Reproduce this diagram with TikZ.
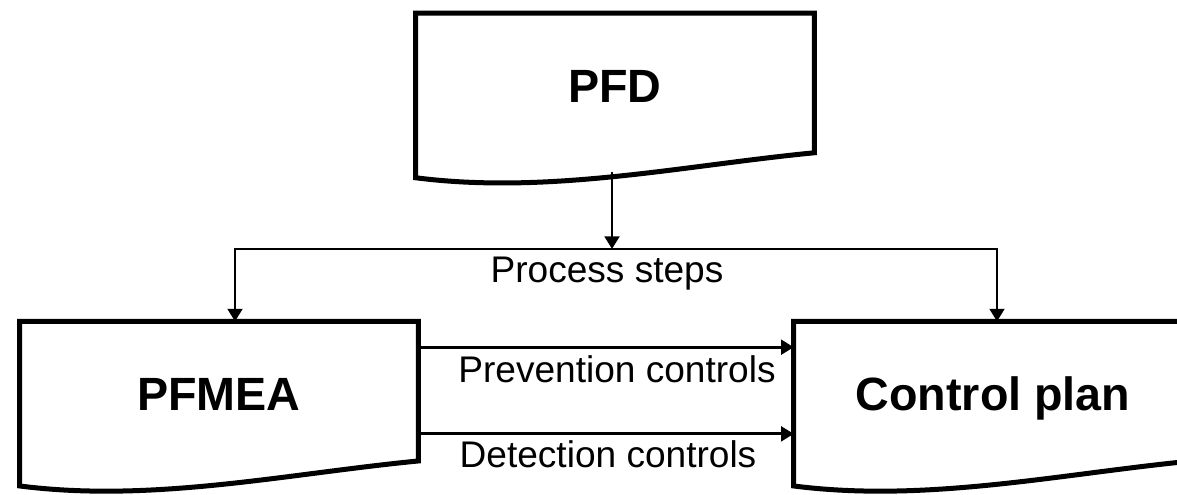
\documentclass[tikz,border=0pt]{standalone}
\usepackage{fontspec}
\setmainfont{Liberation Sans}
\usetikzlibrary{calc,arrows.meta}
\tikzset{
	% ------- custom
	docbox/.style={
		rectangle, inner sep=0pt,
		minimum width=298.5pt, minimum height=104.25pt,
		font=\fontsize{35}{42}\selectfont\bfseries,
		text height=28.7pt, text depth=0pt,
	},
	docline/.style={
		line width=3.75pt,
		line join=miter,
	},
	flow/.style={
		line width=2.2pt,
		-{Triangle[length=9.5pt, width=11pt]},
	},
	flow label/.style={
		font=\fontsize{27.8}{33}\selectfont,
		inner sep=0pt, anchor=base,
	},
}

\begin{document}
\begin{tikzpicture}[x=0.75pt, y=-0.75pt]

% frame %{{{2

	\clip (0,0) rectangle (1177,495);

% documents %{{{2

	\node[docbox] (pfd) at (615,83) {PFD};
	\node[docbox] (pfmea) at (219,391.2) {PFMEA};
	\node[docbox] (ctrl) at (993,391.2) {Control plan};

% document outlines %{{{2

	\draw[docline] (pfd.north west) -- (pfd.north east) -- (pfd.south east)
		.. controls ($(pfd.south east)+(-133,13)$) and ($(pfd.south west)+(133,42)$)
		.. ($(pfd.south west)+(0,25)$) -- cycle;
	\draw[docline] (pfmea.north west) -- (pfmea.north east) -- (pfmea.south east)
		.. controls ($(pfmea.south east)+(-133,13)$) and ($(pfmea.south west)+(133,42)$)
		.. ($(pfmea.south west)+(0,25)$) -- cycle;
	\draw[docline] (ctrl.north west) -- (ctrl.north east) -- (ctrl.south east)
		.. controls ($(ctrl.south east)+(-133,13)$) and ($(ctrl.south west)+(133,42)$)
		.. ($(ctrl.south west)+(0,25)$) -- cycle;

% coordinates %{{{2

	\coordinate (pfdfoot) at (612,172);
	\coordinate (split) at (612,249);
	\coordinate (splitL) at (235,249);
	\coordinate (splitR) at (997,249);

% connectors %{{{2

	\draw[flow] (pfdfoot) -- (split);
	\draw[flow] (split) -| (splitL |- pfmea.north);
	\draw[flow] (split) -| (splitR |- ctrl.north);

	\draw[flow] ([yshift=33pt]pfmea.east) -- ([yshift=33pt]ctrl.west);
	\draw[flow] ([yshift=-32pt]pfmea.east) -- ([yshift=-32pt]ctrl.west);

% connector labels %{{{2

	\node[flow label] (steps) at (607,282) {Process steps};
	\node[flow label] (prev) at (617,382) {Prevention controls};
	\node[flow label] (detect) at (608,467) {Detection controls};

% closing %{{{2

\end{tikzpicture}
\end{document}
